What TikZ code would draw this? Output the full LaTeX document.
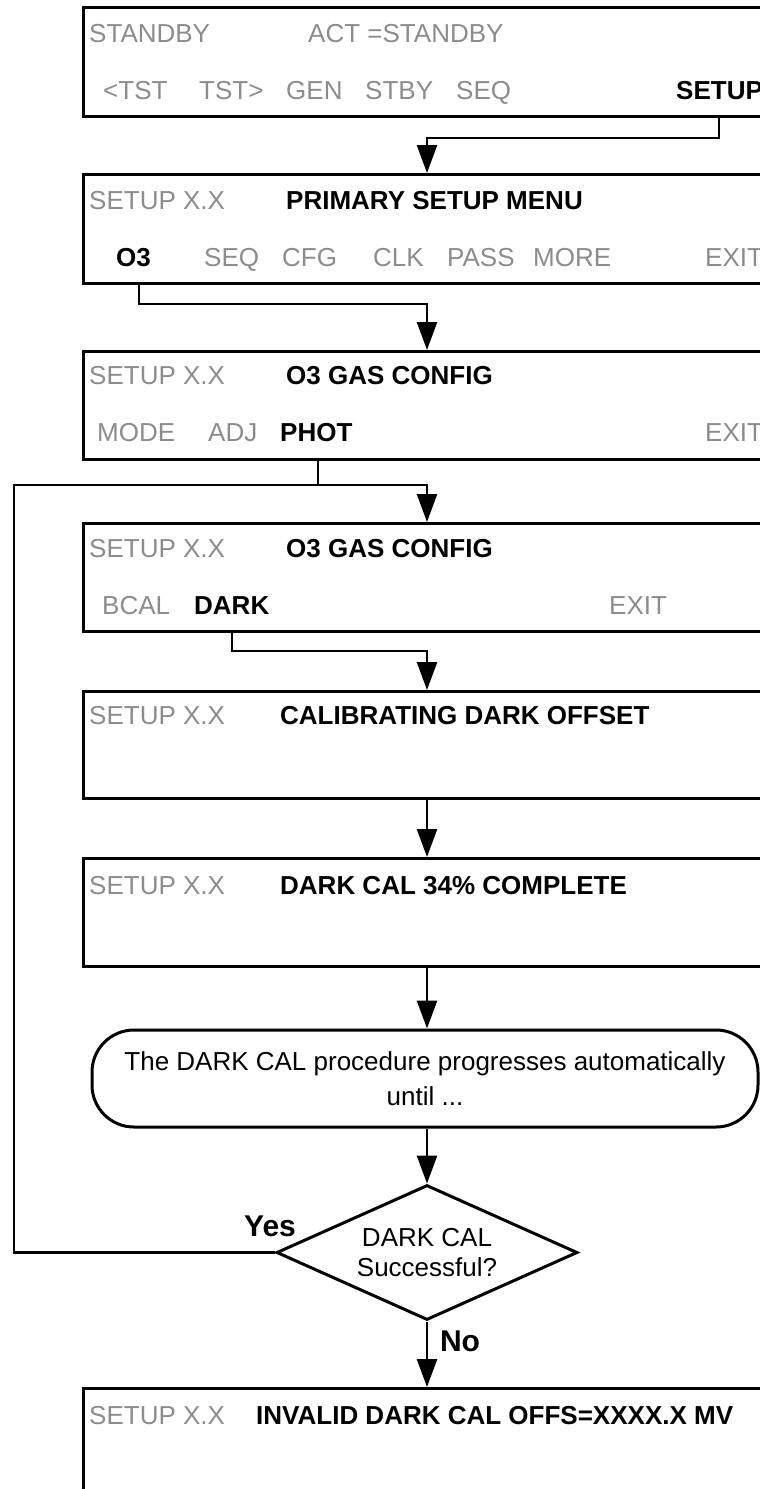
\documentclass[tikz,border=0pt]{standalone}
\usepackage{fontspec}
\setmainfont{Liberation Sans}
\usetikzlibrary{arrows.meta,shapes.geometric}
\definecolor{txtgray}{rgb}{0.55,0.55,0.55}
\begin{document}
\begin{tikzpicture}[x=1pt,y=-1pt,
  box/.style={draw,line width=3pt,anchor=north west,minimum width=740pt,inner sep=0pt},
  g/.style={anchor=base west,inner sep=0pt,text=txtgray,font=\fontsize{26}{30}\selectfont},
  k/.style={anchor=base west,inner sep=0pt,text=black,font=\fontsize{26}{30}\selectfont\bfseries},
  lbl/.style={anchor=base,inner sep=0pt,text=black,font=\fontsize{30}{34}\selectfont\bfseries},
  conn/.style={line width=2.5pt},
  arr/.style={conn,-{Triangle[length=28pt,width=20pt]}}]
\useasboundingbox (0,0) rectangle (760,1489);
\clip (0,0) rectangle (760,1489);
\coordinate (mid) at (427,0);
% box 1
\node[box,minimum height=109pt] (b1) at (82,6) {};
\node[g] (t11) at (89,42) {STANDBY};
\node[g] (t12) at (308,42) {ACT =STANDBY};
\node[g] (t13) at (103,99) {<TST};
\node[g] (t14) at (199,99) {TST>};
\node[g] (t15) at (286,99) {GEN};
\node[g] (t16) at (365,99) {STBY};
\node[g] (t17) at (456,99) {SEQ};
\node[k] (tsetup) at (676,99) {SETUP};
% box 2
\node[box,minimum height=109pt] (b2) at (82,173) {};
\node[g] (t21) at (89,209) {SETUP X.X};
\node[k] (t22) at (286,209) {PRIMARY SETUP MENU};
\node[k] (to3) at (116,266) {O3};
\node[g] (t24) at (204,266) {SEQ};
\node[g] (t25) at (282,266) {CFG};
\node[g] (t26) at (373,266) {CLK};
\node[g] (t27) at (447,266) {PASS};
\node[g] (t28) at (533,266) {MORE};
\node[g] (t29) at (705,266) {EXIT};
% box 3
\node[box,minimum height=108pt] (b3) at (82,350) {};
\node[g] (t31) at (89,384) {SETUP X.X};
\node[k] (t32) at (286,384) {O3 GAS CONFIG};
\node[g] (t33) at (97,441) {MODE};
\node[g] (t34) at (208,441) {ADJ};
\node[k] (tphot) at (280,441) {PHOT};
\node[g] (t36) at (705,441) {EXIT};
% box 4
\node[box,minimum height=108pt] (b4) at (82,522) {};
\node[g] (t41) at (89,557) {SETUP X.X};
\node[k] (t42) at (286,557) {O3 GAS CONFIG};
\node[g] (t43) at (102,614) {BCAL};
\node[k] (tdark) at (194,614) {DARK};
\node[g] (t45) at (609,614) {EXIT};
% box 5
\node[box,minimum height=107pt] (b5) at (82,690) {};
\node[g] (t51) at (89,724) {SETUP X.X};
\node[k] (t52) at (280,724) {CALIBRATING DARK OFFSET};
% box 6
\node[box,minimum height=108pt] (b6) at (82,857) {};
\node[g] (t61) at (89,894) {SETUP X.X};
\node[k] (t62) at (280,894) {DARK CAL 34\% COMPLETE};
% rounded box
\node[draw,line width=3pt,rounded corners=42pt,minimum width=666pt,minimum height=97pt,
      inner sep=0pt,align=center,font=\fontsize{26}{35}\selectfont] (rr) at (425,1078.5)
      {The DARK CAL procedure progresses automatically\\until ...};
% diamond
\node[diamond,draw,line width=3pt,minimum width=301pt,minimum height=135pt,aspect=2.2,inner sep=0pt] (d) at (427,1252.5) {};
\node[inner sep=0pt,align=center,font=\fontsize{26}{30}\selectfont] (dt) at (427,1253) {DARK CAL\\Successful?};
\node[lbl] (yes) at (270,1236) {Yes};
\node[lbl] (no) at (460,1351) {No};
% box 7
\node[box,minimum height=200pt] (b7) at (82,1387) {};
\node[g] (t71) at (89,1424) {SETUP X.X};
\node[k] (t72) at (256,1424) {INVALID DARK CAL OFFS=XXXX.X MV};
% connectors
\coordinate (j1) at (719,138);
\coordinate (j2) at (139,304);
\coordinate (j3) at (318,485);
\coordinate (j4) at (232,651);
\coordinate (loopc) at (14,485);
\draw[arr] (b1.south -| j1) -- (j1) -| (b2.north -| mid);
\draw[arr] (b2.south -| j2) -- (j2) -| (b3.north -| mid);
\draw[arr] (b3.south -| j3) -- (j3) -| (b4.north -| mid);
\draw[arr] (b4.south -| j4) -- (j4) -| (b5.north -| mid);
\draw[arr] (b5.south -| mid) -- (b6.north -| mid);
\draw[arr] (b6.south -| mid) -- (rr.north -| mid);
\draw[arr] (rr.south -| mid) -- (d.north);
\draw[arr] (d.south) -- (b7.north -| mid);
\draw[conn] (d.west) -| (loopc) -- (j3);
\end{tikzpicture}
\end{document}
